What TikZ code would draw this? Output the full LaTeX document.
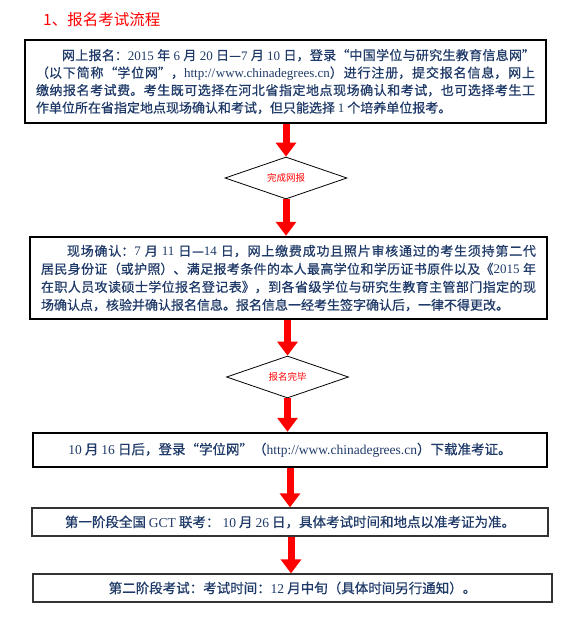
\documentclass[tikz,border=0pt]{standalone}
\usepackage{fontspec}
\setmainfont{Noto Sans CJK SC}
\newfontfamily\cjkmed{Noto Sans CJK SC}[FakeBold=0.7]
\newfontfamily\latnfont{Liberation Serif}
\newcommand{\latn}[1]{{\latnfont #1}}
\usetikzlibrary{shapes.geometric,arrows.meta}
\XeTeXlinebreaklocale "zh"
\XeTeXlinebreakskip=0pt plus 1pt
\definecolor{navy}{HTML}{1F3A68}
\definecolor{boxgray}{HTML}{333333}
\begin{document}
\begin{tikzpicture}[x=1pt,y=-1pt,
  box/.style={draw, rectangle, text=navy, inner xsep=11pt, inner ysep=0pt},
  parbox/.style={box, font=\cjkmed\fontsize{13}{17.5}\selectfont, align=justify},
  linebox/.style={box, font=\cjkmed\fontsize{13.5}{16}\selectfont},
  thickbox/.style={line width=2.5pt, draw=black},
  thinbox/.style={line width=1.3pt, draw=boxgray},
  decision/.style={diamond, draw=black, line width=0.8pt, inner sep=0pt,
    minimum width=122pt, minimum height=42pt, aspect=2.9, text=red,
    font=\fontsize{9.5}{11}\selectfont},
  redarrow/.style={draw=red, line width=7pt, -{Triangle[width=20pt,length=14pt,fill=red]}}
]
\useasboundingbox (0,0) rectangle (585,636);

\node[anchor=west, text=red, font=\fontsize{15.5}{18}\selectfont, inner sep=0pt] (title) at (43,20) {1、报名考试流程};

\node[parbox, thickbox, text width=499pt, minimum height=83pt] (b1) at (285.5,81.5)
{\hspace*{2em}网上报名：\latn{2015} 年 \latn{6} 月 \latn{20} 日—\latn{7} 月 \latn{10} 日，登录“中国学位与研究生教育信息网”\linebreak
（以下简称“学位网”，\latn{http://www.chinadegrees.cn}）进行注册，提交报名信息，网上\linebreak
缴纳报名考试费。考生既可选择在河北省指定地点现场确认和考试，也可选择考生工\linebreak
作单位所在省指定地点现场确认和考试，但只能选择 \latn{1} 个培养单位报考。};

\node[decision] (d1) at (286,178) {完成网报};

\node[parbox, thickbox, font=\cjkmed\fontsize{13}{18}\selectfont, text width=495pt, minimum height=82pt] (b2) at (288.5,278)
{\hspace*{2em}现场确认：\latn{7} 月 \latn{11} 日—\latn{14} 日，网上缴费成功且照片审核通过的考生须持第二代\linebreak
居民身份证（或护照）、满足报考条件的本人最高学位和学历证书原件以及《\latn{2015} 年\linebreak
在职人员攻读硕士学位报名登记表》，到各省级学位与研究生教育主管部门指定的现\linebreak
场确认点，核验并确认报名信息。报名信息一经考生签字确认后，一律不得更改。};

\node[decision] (d2) at (287.5,377) {报名完毕};

\node[linebox, thickbox, minimum width=514pt, minimum height=34pt] (b3) at (290,450)
{\latn{10} 月 \latn{16} 日后，登录“学位网”（\latn{http://www.chinadegrees.cn}）下载准考证。};

\node[linebox, thinbox, minimum width=516pt, minimum height=28pt] (b4) at (290,522)
{第一阶段全国 \latn{GCT} 联考： \latn{10} 月 \latn{26} 日，具体考试时间和地点以准考证为准。};

\node[linebox, thinbox, minimum width=519pt, minimum height=28pt] (b5) at (292.5,588)
{第二阶段考试：考试时间：\latn{12} 月中旬（具体时间另行通知）。};

\draw[redarrow] (b1.south -| d1.north) -- (d1.north);
\draw[redarrow] (d1.south) -- (d1.south |- b2.north);
\draw[redarrow] (b2.south -| d2.north) -- (d2.north);
\draw[redarrow] (d2.south) -- (d2.south |- b3.north);
\draw[redarrow] (b3.south) -- (b3.south |- b4.north);
\draw[redarrow] (b4.south -| 291,0) -- (b5.north -| 291,0);
\end{tikzpicture}
\end{document}
